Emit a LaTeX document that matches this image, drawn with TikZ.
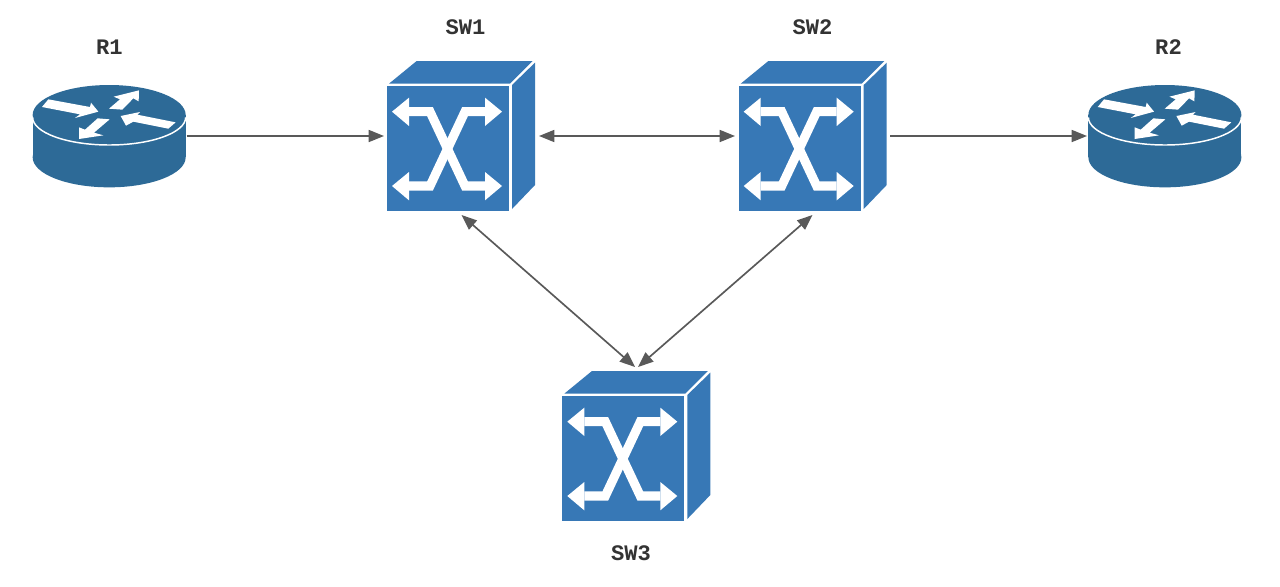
\documentclass[tikz,border=0pt]{standalone}
\usepackage{fontspec}
\setmainfont{Liberation Mono}
\usetikzlibrary{arrows.meta}
\definecolor{swblue}{HTML}{3778B6}
\definecolor{rtblue}{HTML}{2D6A97}
\definecolor{edgegrey}{HTML}{595959}
\definecolor{labeltext}{HTML}{333333}
\tikzset{
  anchorbox/.style={inner sep=0pt,outer sep=0pt,draw=none,fill=none,rectangle},
  devlabel/.style={inner sep=0pt,font=\fontsize{16.6pt}{18pt}\selectfont\bfseries,text=labeltext},
  link/.style={draw=edgegrey,line width=1.25pt},
  onetip/.style={-{Triangle[length=11.5pt,width=9pt]}},
  twotip/.style={{Triangle[length=11.5pt,width=9pt]}-{Triangle[length=11.5pt,width=9pt]}},
  whitex/.style={draw=white,line width=6.8pt,miter limit=10},
  pics/switchicon/.style={code={
    \begin{scope}[x=0.25pt,y=-0.25pt]
      \fill[swblue] (51,107) rectangle (417,483);
      \fill[swblue] (57,101) -- (140,33) -- (488,33) -- (420,101) -- cycle;
      \fill[swblue] (426,105) -- (495,38) -- (495,405) -- (426,477) -- cycle;
      \draw[whitex] (117,185) -- (180,185) -- (285,408) -- (345,408);
      \draw[whitex] (117,408) -- (180,408) -- (285,185) -- (345,185);
      \fill[white] (66,185) -- (117,143) -- (117,228) -- cycle;
      \fill[white] (66,408) -- (117,366) -- (117,451) -- cycle;
      \fill[white] (396,185) -- (345,143) -- (345,228) -- cycle;
      \fill[white] (396,408) -- (345,366) -- (345,451) -- cycle;
    \end{scope}
  }},
  pics/routericon/.style={code={
    \begin{scope}[x=0.25pt,y=-0.25pt]
      \fill[rtblue] (38,255) rectangle (497,382);
      \fill[rtblue] (267.5,382) ellipse[x radius=229.5,y radius=90];
      \fill[rtblue] (267.5,255) ellipse[x radius=229.5,y radius=90];
      \draw[white,line width=1.1pt] (38,262) arc[start angle=180,end angle=0,x radius=229.5,y radius=83];
      \fill[white] (85,208) -- (210,231) -- (213,218) -- (235,245) -- (165,264) -- (180,253) -- (66,231) -- cycle;
      \fill[white] (267,236) -- (300,208) -- (281,200) -- (357,181) -- (356,214) -- (340,205) -- (307,239) -- cycle;
      \fill[white] (302,258) -- (360,246) -- (352,254) -- (467,277) -- (445,296) -- (340,275) -- (318,287) -- cycle;
      \fill[white] (177,327) -- (177,292) -- (195,299) -- (233,265) -- (269,268) -- (222,308) -- (250,316) -- cycle;
    \end{scope}
  }}
}
\begin{document}
\begin{tikzpicture}[x=0.75pt,y=-0.75pt]
  \useasboundingbox (0,0) rectangle (1280,586);
  \fill[white] (0,0) rectangle (1280,586);

  \pic at (20,30) {routericon};
  \pic at (1075.7,30) {routericon};
  \pic at (370,50) {switchicon};
  \pic at (721.7,50) {switchicon};
  \pic at (545.3,360) {switchicon};

  \node[anchorbox,minimum width=116.25pt,minimum height=39pt] (r1) at (109,136) {};
  \node[anchorbox,minimum width=116.25pt,minimum height=39pt] (r2) at (1164.5,136) {};
  \node[anchorbox,minimum width=116.25pt,minimum height=118.5pt] (sw1) at (461.5,136) {};
  \node[anchorbox,minimum width=116.25pt,minimum height=118.5pt] (sw2) at (812.5,136) {};
  \node[anchorbox,minimum width=116.25pt,minimum height=118.5pt] (sw3) at (636.5,446) {};

  \node[devlabel] (lr1) at (109.5,47) {R1};
  \node[devlabel] (lr2) at (1168.5,47) {R2};
  \node[devlabel] (ls1) at (465.5,27) {SW1};
  \node[devlabel] (ls2) at (812.5,27) {SW2};
  \node[devlabel] (ls3) at (631,553) {SW3};

  \draw[link,onetip] (r1.east) -- (sw1.west);
  \draw[link,twotip] (sw1.east) -- (sw2.west);
  \draw[link,onetip] (sw2.east) -- (r2.west);
  \draw[link,twotip] (sw1.south) -- ([xshift=-1.1pt]sw3.north);
  \draw[link,twotip] (sw2.south) -- ([xshift=1.1pt]sw3.north);
\end{tikzpicture}
\end{document}
